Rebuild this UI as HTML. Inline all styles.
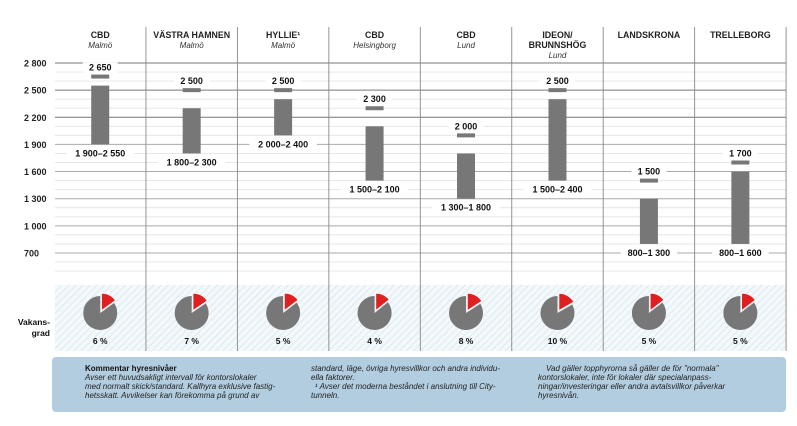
<!DOCTYPE html>
<html><head><meta charset="utf-8">
<style>
html,body{margin:0;padding:0;background:#fff;}
body{width:797px;height:421px;overflow:hidden;font-family:"Liberation Sans",sans-serif;}
svg text{font-family:"Liberation Sans",sans-serif;}
</style></head>
<body>
<svg id="chart" width="797" height="421" viewBox="0 0 797 421" xmlns="http://www.w3.org/2000/svg">
<defs>
<pattern id="hatch" patternUnits="userSpaceOnUse" width="5" height="5" patternTransform="rotate(45)">
<rect width="5" height="5" fill="#f3f8fb"/>
<line x1="0" y1="0" x2="0" y2="5" stroke="#d6e6ef" stroke-width="1.6"/>
</pattern>
</defs>
<g id="grid"></g>
<g id="cols"></g>
<g id="marks"></g>
<g id="pies"></g>
<g>
<rect x="52" y="357" width="734" height="55" rx="4" fill="#b2cddf"/>
<text x="85" y="371" font-size="8" font-weight="bold" fill="#111">Kommentar hyresnivåer</text>
<text font-size="8" font-style="italic" fill="#222">
<tspan x="85" y="380">Avser ett huvudsakligt intervall för kontorslokaler</tspan>
<tspan x="85" y="389">med normalt skick/standard. Kallhyra exklusive fastig-</tspan>
<tspan x="85" y="398">hetsskatt. Avvikelser kan förekomma på grund av</tspan>
<tspan x="311" y="371">standard, läge, övriga hyresvillkor och andra individu-</tspan>
<tspan x="311" y="380">ella faktorer.</tspan>
<tspan x="315" y="389">¹ Avser det moderna beståndet i anslutning till City-</tspan>
<tspan x="311" y="398">tunneln.</tspan>
<tspan x="546" y="371">Vad gäller topphyrorna så gäller de för "normala"</tspan>
<tspan x="538" y="380">kontorslokaler, inte för lokaler där specialanpass-</tspan>
<tspan x="538" y="389">ningar/investeringar eller andra avtalsvillkor påverkar</tspan>
<tspan x="538" y="398">hyresnivån.</tspan>
</text>
</g>
</svg>
<script>
const areas=["CBD","VÄSTRA HAMNEN","HYLLIE¹","CBD","CBD","IDEON/ BRUNNSHÖG","LANDSKRONA","TRELLEBORG"];
const cities=["Malmö","Malmö","Malmö","Helsingborg","Lund","Lund","",""];
const lows=[1900,1800,2000,1500,1300,1500,800,800];
const highs=[2550,2300,2400,2100,1800,2400,1300,1600];
const tops=[2650,2500,2500,2300,2000,2500,1500,1700];
const vacancy=[6,7,5,4,8,10,5,5];
const ticks=[2800,2500,2200,1900,1600,1300,1000,700];
const tickLabels=["2 800","2 500","2 200","1 900","1 600","1 300","1 000","700"];

const NS="http://www.w3.org/2000/svg";
function el(tag,attrs,parent){const e=document.createElementNS(NS,tag);for(const k in attrs)e.setAttribute(k,attrs[k]);parent.appendChild(e);return e;}
const y=v=>63+(2800-v)/300*27.14;
const X0=54.5,CW=91.45;
const cx=i=>X0+CW*i+CW/2;
const fmt=v=>v>=1000?Math.floor(v/1000)+" "+String(v%1000).padStart(3,"0"):String(v);

const grid=document.getElementById("grid");
const band=el("rect",{x:55,y:285,width:731,height:66,fill:"url(#hatch)"},grid);


for(let v=2800;v>=500;v-=100){
  if(ticks.includes(v)) continue;
  el("line",{x1:55,x2:786,y1:y(v),y2:y(v),stroke:"#e4e4e4","stroke-width":0.9},grid);
}
ticks.forEach((t,i)=>{
  const l=el("line",{x1:55,x2:786,y1:y(t),y2:y(t),stroke:i<3?"#777":"#aaa","stroke-width":1},grid);
  
  
  const tx=el("text",{x:24,y:y(t)+3.5,"font-size":9,"font-weight":"bold",fill:"#222"},grid);
  tx.textContent=tickLabels[i];
  
  
});
const vk=el("text",{x:50,y:326,"font-size":8.5,"font-weight":"bold","text-anchor":"end",fill:"#111"},grid);
vk.innerHTML='<tspan x="50" y="325">Vakans-</tspan><tspan x="50" y="336">grad</tspan>';



const cols=document.getElementById("cols");
for(let i=1;i<=8;i++){
  const x=X0+CW*i;
  const l=el("line",{x1:x,x2:x,y1:27,y2:351,stroke:"#888","stroke-width":0.9},cols);
  
  
}
areas.forEach((a,i)=>{
  let lines=a.startsWith("IDEON")?["IDEON/","BRUNNSHÖG"]:[a];
  lines.forEach((ln,j)=>{
    const t=el("text",{x:cx(i),y:38+j*10,"font-size":8.8,"font-weight":"bold","text-anchor":"middle",fill:"#222"},cols);
    t.textContent=ln;
    
    
  });
  if(cities[i]){
    const c=el("text",{x:cx(i),y:38+lines.length*10,"font-size":8,"font-style":"italic","text-anchor":"middle",fill:"#333"},cols);
    c.textContent=cities[i];
    
    
  }
});

const marks=document.getElementById("marks");
function label(txt,x,yy){
  const w=txt.length*5.4+8;
  el("rect",{x:x-w/2,y:yy-8,width:w,height:11,fill:"#fff"},marks);
  const t=el("text",{x:x,y:yy,"font-size":9,"font-weight":"bold","text-anchor":"middle",fill:"#111"},marks);
  t.textContent=txt;
  return t;
}
lows.forEach((lo,i)=>{
  const x=cx(i);
  const tl=label(fmt(tops[i]),x,y(tops[i])-6);
  
  
  const rl=label(fmt(lo)+"–"+fmt(highs[i]),x,y(lo)+12);
  
  
  const m=el("rect",{x:x-9,y:y(tops[i])-2,width:18,height:4,fill:"#777"},marks);
  
  
  const b=el("rect",{x:x-9,y:y(highs[i]),width:18,height:y(lo)-y(highs[i]),fill:"#777"},marks);
  
  
});

const pies=document.getElementById("pies");
vacancy.forEach((p,i)=>{
  const x=cx(i),yc=313,r=17;
  const ang=(45+p*1.5)*Math.PI/180;
  const px=a=>Math.sin(a),py=a=>-Math.cos(a);
  const g=el("path",{d:`M${x},${yc} L${x+r*px(ang)},${yc+r*py(ang)} A${r},${r} 0 1 1 ${x},${yc-r} Z`,fill:"#777"},pies);
  
  
  const ox=x+3*px(ang/2),oy=yc+3*py(ang/2);
  const s=el("path",{d:`M${ox},${oy} L${ox},${oy-r} A${r},${r} 0 0 1 ${ox+r*px(ang)},${oy+r*py(ang)} Z`,fill:"#e02020",stroke:"#fff","stroke-width":0.6},pies);
  
  
  const t=el("text",{x:x,y:344,"font-size":8.5,"font-weight":"bold","text-anchor":"middle",fill:"#111"},pies);
  t.textContent=p+" %";
  
  
});
</script>
</body></html>
